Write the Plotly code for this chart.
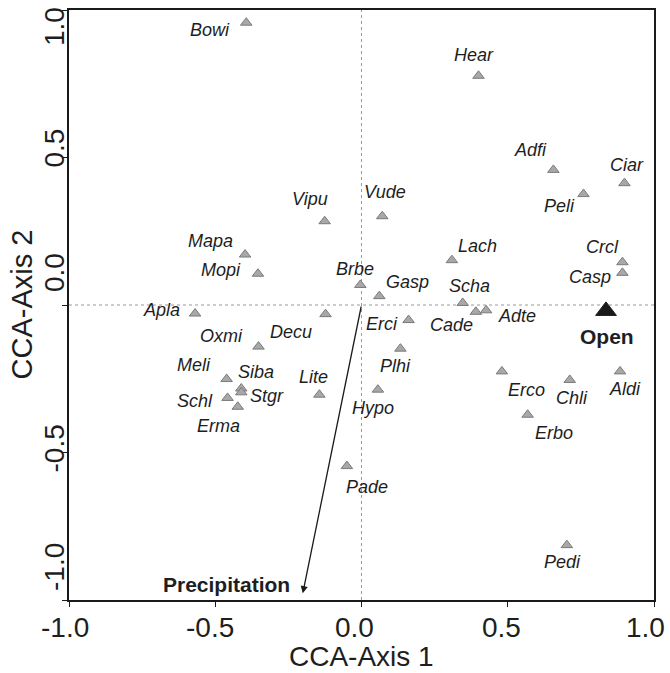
import plotly.graph_objects as go

# ---- data (CCA species scores) ----
species = ["Bowi", "Vipu", "Mapa", "Mopi", "Brbe", "Hear", "Adfi", "Ciar", "Peli", "Vude",
           "Lach", "Crcl", "Casp", "Gasp", "Scha", "Apla", "Oxmi", "Decu", "Meli", "Siba",
           "Stgr", "Schl", "Erma", "Lite", "Pade", "Hypo", "Erci", "Cade", "Adte", "Plhi",
           "Erco", "Chli", "Aldi", "Erbo", "Pedi"]
axis1 = [-0.394, -0.126, -0.398, -0.354, -0.004, 0.400, 0.656, 0.899, 0.759, 0.071,
         0.309, 0.892, 0.892, 0.061, 0.346, -0.569, -0.352, -0.123, -0.461, -0.411,
         -0.411, -0.458, -0.423, -0.144, -0.050, 0.056, 0.161, 0.391, 0.426, 0.133,
         0.480, 0.712, 0.884, 0.568, 0.702]
axis2 = [0.957, 0.284, 0.171, 0.106, 0.068, 0.777, 0.458, 0.413, 0.376, 0.301,
         0.152, 0.145, 0.109, 0.030, 0.007, -0.029, -0.141, -0.031, -0.251, -0.283,
         -0.296, -0.315, -0.345, -0.304, -0.546, -0.287, -0.051, -0.023, -0.018, -0.148,
         -0.225, -0.254, -0.225, -0.372, -0.814]

# label placement offsets (pixels) relative to each point
label_dx = [-36, -15, -35, -37, -5, -5, -23, 3, -24, 3,
            26, -20, -32, 28, 7, -34, -37, -35, -33, 15,
            26, -33, -19, -6, 20, -5, -27, -24, 31, -5,
            25, 2, 5, 26, -4]
label_dy = [-7, 22, 14, 4, 16, 21, 20, 18, -12, 24,
            14, 15, -4, 14, 17, 4, 11, -18, 14, 16,
            -4, -3, -19, 18, -21, -18, -4, -13, -6, -17,
            -19, -18, -18, -18, -17]

# environmental variables
nominal_name = "Open"
nominal_xy = (0.836, -0.020)
arrow_name = "Precipitation"
arrow_xy = (-0.2007, -0.977)

tick_vals = [-1.0, -0.5, 0.0, 0.5, 1.0]
tick_text = ["-1.0", "-0.5", "0.0", "0.5", "1.0"]
xtick_shift = [-4, -5, -7, -6, -9]
ytick_shift = [33, 4, 32, 9, -17]

FONT = "Liberation Sans, Arial, Helvetica, sans-serif"
TXT = "#1e1e1e"

fig = go.Figure()

fig.add_trace(go.Scatter(
    x=axis1, y=axis2, mode="markers",
    marker=dict(symbol="triangle-up", size=10, color="#a8a8a8",
                line=dict(color="#7a7a7a", width=1)),
    hoverinfo="text", text=species, showlegend=False))

fig.add_trace(go.Scatter(
    x=[nominal_xy[0]], y=[nominal_xy[1]], mode="markers",
    marker=dict(symbol="triangle-up", size=18, color="#1a1a1a",
                line=dict(color="#1a1a1a", width=1)),
    showlegend=False, hoverinfo="skip"))

annotations = []
for name, x, y, dx, dy in zip(species, axis1, axis2, label_dx, label_dy):
    annotations.append(dict(x=x, y=y, xref="x", yref="y", text="<i>" + name + "</i>",
                            showarrow=False, xshift=dx, yshift=dy,
                            xanchor="center", yanchor="middle",
                            font=dict(family=FONT, size=18, color=TXT)))

annotations.append(dict(x=nominal_xy[0], y=nominal_xy[1], xref="x", yref="y",
                        text="<b>" + nominal_name + "</b>", showarrow=False,
                        xshift=1, yshift=-26, font=dict(family=FONT, size=21, color=TXT)))

# arrow for precipitation
annotations.append(dict(x=arrow_xy[0], y=arrow_xy[1], ax=0, ay=0, xref="x", yref="y",
                        axref="x", ayref="y", text="", showarrow=True,
                        arrowhead=2, arrowsize=1.1, arrowwidth=1.3, arrowcolor="#1a1a1a",
                        standoff=0, startstandoff=0))
annotations.append(dict(x=arrow_xy[0], y=arrow_xy[1], xref="x", yref="y",
                        text="<b>" + arrow_name + "</b>", showarrow=False,
                        xanchor="right", yanchor="middle", xshift=-11, yshift=9,
                        font=dict(family=FONT, size=21, color=TXT)))

# tick labels
for v, t, s in zip(tick_vals, tick_text, xtick_shift):
    annotations.append(dict(x=v, y=0, xref="x", yref="paper", text=t, showarrow=False,
                            xshift=s, yshift=-27, xanchor="center", yanchor="middle",
                            font=dict(family=FONT, size=28, color=TXT)))
for v, t, s in zip(tick_vals, tick_text, ytick_shift):
    annotations.append(dict(x=0, y=v, xref="paper", yref="y", text=t, showarrow=False,
                            xshift=-15, yshift=s, textangle=-90,
                            xanchor="center", yanchor="middle",
                            font=dict(family=FONT, size=28, color=TXT)))

# axis titles
annotations.append(dict(x=0.5, y=0, xref="paper", yref="paper", text="CCA-Axis 1",
                        showarrow=False, yshift=-56, yanchor="middle",
                        font=dict(family=FONT, size=28, color=TXT)))
annotations.append(dict(x=0, y=0.5, xref="paper", yref="paper", text="CCA-Axis 2",
                        showarrow=False, xshift=-47.5, textangle=-90, xanchor="center",
                        yanchor="middle", font=dict(family=FONT, size=29, color=TXT)))

shapes = [
    dict(type="line", xref="x", yref="y", x0=0, x1=0, y0=-1, y1=1, layer="below",
         line=dict(color="#9a9a9a", width=1, dash="dot")),
    dict(type="line", xref="x", yref="y", x0=-1, x1=1, y0=0, y1=0, layer="below",
         line=dict(color="#9a9a9a", width=1, dash="dot")),
]

axis_common = dict(range=[-1, 1], tickvals=tick_vals, showticklabels=False,
                   ticks="outside", ticklen=5, tickwidth=1, tickcolor="#1a1a1a",
                   showline=True, linecolor="#1a1a1a", linewidth=1.5, mirror=True,
                   showgrid=False, zeroline=False)

fig.update_layout(
    width=670, height=673,
    margin=dict(l=69, r=16, t=8, b=73),
    paper_bgcolor="white", plot_bgcolor="white",
    xaxis=axis_common, yaxis=axis_common,
    annotations=annotations, shapes=shapes,
    font=dict(family=FONT, color=TXT),
)

fig.write_html("out.html")
